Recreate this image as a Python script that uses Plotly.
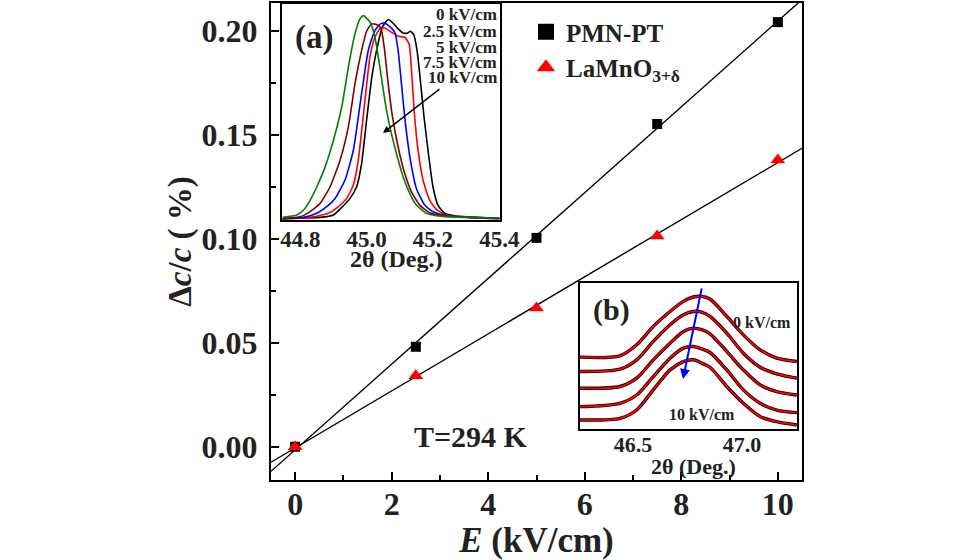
import plotly.graph_objects as go
import numpy as np

# ---------------- main data ----------------
E_field = [0, 2.5, 5, 7.5, 10]
pmn_pt = [0.0, 0.0481, 0.1005, 0.1553, 0.2043]
lamno = [0.0, 0.0341, 0.0668, 0.1014, 0.1380]
x_ticks = [0, 2, 4, 6, 8, 10]
y_ticks = [0.00, 0.05, 0.10, 0.15, 0.20]

# ---------------- inset (a) data ----------------
a_labels = ["0 kV/cm", "2.5 kV/cm", "5 kV/cm", "7.5 kV/cm", "10 kV/cm"]
a_colors = ["#000000", "#ff0000", "#0000ff", "#800000", "#008000"]
a_x0 = [44.747, 44.860, 44.900, 44.925, 44.950, 44.970, 44.985, 45.000, 45.015, 45.030, 45.048, 45.065, 45.080,
        45.095, 45.110, 45.122, 45.132, 45.142, 45.152, 45.162, 45.172, 45.185, 45.200, 45.215, 45.235, 45.270,
        45.330, 45.400]
a_y0 = [0.008, 0.012, 0.023, 0.058, 0.100, 0.154, 0.262, 0.462, 0.654, 0.785, 0.895, 0.928, 0.911,
        0.885, 0.866, 0.865, 0.874, 0.858, 0.785, 0.646, 0.492, 0.323, 0.154, 0.069, 0.031, 0.018,
        0.012, 0.008]
a_x25 = [44.747, 44.830, 44.885, 44.915, 44.940, 44.960, 44.975, 44.995, 45.010, 45.025, 45.040, 45.055, 45.075,
         45.095, 45.115, 45.128, 45.136, 45.144, 45.155, 45.170, 45.190, 45.210, 45.240, 45.310, 45.400]
a_y25 = [0.005, 0.012, 0.031, 0.062, 0.100, 0.162, 0.277, 0.554, 0.754, 0.846, 0.885, 0.889, 0.869,
         0.851, 0.846, 0.815, 0.677, 0.492, 0.323, 0.185, 0.092, 0.049, 0.023, 0.012, 0.006]
a_x5 = [44.747, 44.810, 44.850, 44.880, 44.905, 44.935, 44.960, 44.982, 45.005, 45.025, 45.042, 45.055, 45.070,
        45.085, 45.095, 45.105, 45.117, 45.132, 45.150, 45.175, 45.200, 45.240, 45.310, 45.400]
a_y5 = [0.005, 0.012, 0.031, 0.062, 0.100, 0.185, 0.323, 0.554, 0.785, 0.877, 0.908, 0.911, 0.895,
        0.869, 0.785, 0.631, 0.446, 0.277, 0.146, 0.069, 0.038, 0.020, 0.012, 0.006]
a_x75 = [44.747, 44.800, 44.825, 44.860, 44.890, 44.920, 44.945, 44.965, 44.985, 45.000, 45.015, 45.030, 45.043,
         45.053, 45.065, 45.078, 45.095, 45.115, 45.135, 45.160, 45.190, 45.240, 45.310, 45.400]
a_y75 = [0.006, 0.015, 0.034, 0.077, 0.154, 0.277, 0.431, 0.631, 0.785, 0.874, 0.908, 0.905, 0.889,
         0.800, 0.631, 0.477, 0.338, 0.215, 0.131, 0.069, 0.034, 0.018, 0.012, 0.008]
a_x10 = [44.747, 44.790, 44.810, 44.830, 44.850, 44.875, 44.900, 44.925, 44.945, 44.965, 44.980, 44.990, 45.002,
         45.012, 45.025, 45.040, 45.055, 45.070, 45.090, 45.110, 45.130, 45.150, 45.180, 45.220, 45.310, 45.400]
a_y10 = [0.012, 0.023, 0.046, 0.092, 0.154, 0.246, 0.369, 0.523, 0.708, 0.862, 0.931, 0.946, 0.931,
         0.911, 0.846, 0.708, 0.554, 0.431, 0.308, 0.200, 0.123, 0.069, 0.031, 0.018, 0.012, 0.009]
a_ticks = [44.8, 45.0, 45.2, 45.4]

# ---------------- inset (b) data ----------------
b_x = [46.257, 46.440, 46.517, 46.593, 46.670, 46.731, 46.777, 46.815, 46.853, 46.930, 47.006, 47.083, 47.159, 47.251]
b_y0 = [0.492, 0.501, 0.577, 0.703, 0.805, 0.874, 0.904, 0.908, 0.890, 0.771, 0.645, 0.542, 0.485, 0.462]
b_y25 = [0.394, 0.410, 0.474, 0.600, 0.714, 0.783, 0.805, 0.801, 0.771, 0.657, 0.519, 0.423, 0.378, 0.348]
b_y5 = [0.279, 0.291, 0.348, 0.474, 0.588, 0.668, 0.691, 0.680, 0.652, 0.531, 0.405, 0.302, 0.256, 0.233]
b_y75 = [0.153, 0.176, 0.233, 0.359, 0.485, 0.554, 0.565, 0.549, 0.524, 0.405, 0.268, 0.176, 0.130, 0.112]
b_y10 = [0.062, 0.073, 0.130, 0.268, 0.405, 0.462, 0.474, 0.451, 0.423, 0.291, 0.176, 0.085, 0.050, 0.027]
b_ticks = [46.5, 47.0]

FONT = "Liberation Serif, Times New Roman, serif"
W, H = 960, 560
ML, MR, MT, MB = 271, 158, 3, 80
PW, PH = W - ML - MR, H - MT - MB


def px(x, y):
    return (x - ML) / PW, (H - MB - y) / PH


fig = go.Figure()

# fit lines across the x range
xr = [-0.5, 10.5]
for ys in (pmn_pt, lamno):
    k, b = np.polyfit(E_field, ys, 1)
    fig.add_trace(go.Scatter(x=xr, y=[k * xr[0] + b, k * xr[1] + b], mode="lines",
                             line=dict(color="black", width=1.4), showlegend=False, hoverinfo="skip"))

fig.add_trace(go.Scatter(x=E_field, y=pmn_pt, mode="markers", showlegend=False,
                         marker=dict(symbol="square", size=10, color="black")))
fig.add_trace(go.Scatter(x=E_field, y=lamno, mode="markers", showlegend=False,
                         marker=dict(symbol="triangle-up", size=13, color="red")))
# legend entries
fig.add_trace(go.Scatter(x=[None], y=[None], mode="markers", name="PMN-PT",
                         marker=dict(symbol="square", size=16, color="black")))
fig.add_trace(go.Scatter(x=[None], y=[None], mode="markers", name="LaMnO<sub>3+δ</sub>",
                         marker=dict(symbol="triangle-up", size=16, color="red")))

# inset (a)
for xs, ys, c, nm in zip([a_x0, a_x25, a_x5, a_x75, a_x10], [a_y0, a_y25, a_y5, a_y75, a_y10], a_colors, a_labels):
    fig.add_trace(go.Scatter(x=xs, y=ys, mode="lines", xaxis="x2", yaxis="y2", showlegend=False, name=nm,
                             line=dict(color=c, width=1.6, shape="spline", smoothing=0.5)))

# inset (b)
for ys in (b_y0, b_y25, b_y5, b_y75, b_y10):
    fig.add_trace(go.Scatter(x=b_x, y=ys, mode="lines", xaxis="x3", yaxis="y3", showlegend=False,
                             line=dict(color="black", width=3.4, shape="spline", smoothing=0.8)))
    fig.add_trace(go.Scatter(x=b_x, y=ys, mode="lines", xaxis="x3", yaxis="y3", showlegend=False,
                             line=dict(color="red", width=1.8, shape="spline", smoothing=0.8)))

ax_main = dict(showline=True, linewidth=2, linecolor="black", mirror=True, showgrid=False, zeroline=False,
               ticks="inside", ticklen=8, tickwidth=1.5, tickcolor="black",
               tickfont=dict(family=FONT, size=32, color="#222", weight="bold"))

a0 = px(282, 4)
a1 = px(500, 220)
b0 = px(580, 283)
b1 = px(797, 429)

inset_ax = dict(showline=True, linewidth=1.5, linecolor="black", mirror=True, showgrid=False, zeroline=False,
                ticks="")

fig.update_layout(
    width=W, height=H,
    margin=dict(l=ML, r=MR, t=MT, b=MB, autoexpand=False),
    paper_bgcolor="white", plot_bgcolor="white",
    font=dict(family=FONT, color="#222"),
    xaxis=dict(**ax_main, range=[-0.5, 10.5], tickvals=x_ticks, ticklabelstandoff=-5,
               minor=dict(dtick=1, ticks="inside", ticklen=5, tickwidth=1.5, tickcolor="black"),
               title=dict(text="<i>E</i> (kV/cm)", font=dict(family=FONT, size=35, weight="bold"), standoff=0)),
    yaxis=dict(**ax_main, range=[-0.016, 0.2135], tickvals=y_ticks, tickformat=".2f", ticklabelstandoff=5,
               minor=dict(dtick=0.025, ticks="inside", ticklen=5, tickwidth=1.5, tickcolor="black"),
               title=dict(text="Δ<i>c</i>/<i>c</i> ( %)", font=dict(family=FONT, size=33, weight="bold"),
                          standoff=0)),
    xaxis2=dict(**inset_ax, domain=[a0[0], a1[0]], anchor="y2", range=[44.745, 45.402], tickvals=a_ticks,
                tickformat=".1f", tickfont=dict(family=FONT, size=23, weight="bold"), ticklabelstandoff=-2),
    yaxis2=dict(**inset_ax, domain=[a1[1], a0[1]], anchor="x2", range=[0, 1], showticklabels=False),
    xaxis3=dict(**inset_ax, domain=[b0[0], b1[0]], anchor="y3", range=[46.257, 47.252], tickvals=b_ticks,
                tickformat=".1f", tickfont=dict(family=FONT, size=22, weight="bold"), ticklabelstandoff=-5),
    yaxis3=dict(**inset_ax, domain=[b1[1], b0[1]], anchor="x3", range=[0, 1], showticklabels=False),
    legend=dict(x=px(526, 0)[0], y=px(0, 9)[1], xanchor="left", yanchor="top", bgcolor="rgba(0,0,0,0)",
                font=dict(family=FONT, size=25, weight="bold", color="#222"), itemsizing="trace"),
)

ann = []


def text(x, y, s, size, xanchor="center"):
    p = px(x, y)
    ann.append(dict(x=p[0], y=p[1], xref="paper", yref="paper", text=s, showarrow=False, xanchor=xanchor,
                    yanchor="middle", font=dict(family=FONT, size=size, weight="bold", color="#222")))


text(314, 37, "(a)", 33)
for lab, yy in zip(a_labels, [15, 31, 47, 62, 78]):
    text(499, yy, lab, 17, xanchor="right")
text(396, 259, "2θ (Deg.)", 24)
text(611, 310, "(b)", 30)
text(762, 323, "0 kV/cm", 16)
text(702, 414, "10 kV/cm", 16)
text(693, 466, "2θ (Deg.)", 22)
text(471, 436, "T=294 K", 30)

# arrows
h = px(383, 133)
ann.append(dict(x=h[0], y=h[1], xref="paper", yref="paper", ax=58, ay=-45, showarrow=True, arrowhead=2,
                arrowsize=1, arrowwidth=1.4, arrowcolor="black", text=""))
h = px(683, 379)
ann.append(dict(x=h[0], y=h[1], xref="paper", yref="paper", ax=19, ay=-92, showarrow=True, arrowhead=2,
                arrowsize=1, arrowwidth=2, arrowcolor="#0000ff", text=""))
fig.update_layout(annotations=ann)

fig.write_html("out.html", config={"displayModeBar": False},
               post_script="document.body.style.margin='0px';")
